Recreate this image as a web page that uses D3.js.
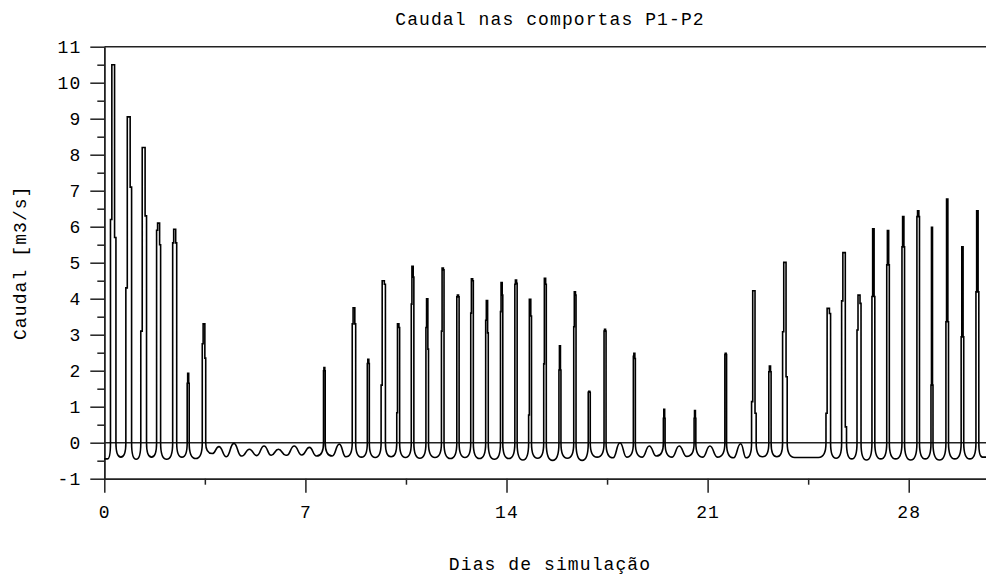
<!DOCTYPE html>
<html>
<head>
<meta charset="utf-8">
<title>Caudal nas comportas P1-P2</title>
<style>
  body { margin: 0; background: #fff; }
  svg text {
    font-family: "Liberation Mono", "DejaVu Sans Mono", monospace;
    font-size: 18px;
    fill: #000;
    letter-spacing: 1.1px;
  }
  .axis path, .axis line { stroke: #222; stroke-width: 1.5; }
  .frame { stroke: #222; stroke-width: 1.5; }
  .trace { fill: none; stroke: #000; stroke-width: 1.6; }
</style>
<script src="https://d3js.org/d3.v7.min.js"></script>
</head>
<body>
<div id="chart"></div>
<script>
// one entry per tidal crest (days of simulation)
var crestDay = [0.31, 0.85, 1.37, 1.89, 2.45, 2.92, 3.47, 3.99, 4.51, 5.05, 5.56, 6.06, 6.61, 7.14,
  7.66, 8.18, 8.69, 9.19, 9.71, 10.23, 10.73, 11.24, 11.78, 12.31, 12.80, 13.32, 13.83, 14.33,
  14.82, 15.34, 15.86, 16.38, 16.88, 17.43, 17.95, 18.45, 18.97, 19.49, 20.01, 20.56, 21.08, 21.63,
  22.15, 22.61, 23.17, 23.69, 25.20, 25.75, 26.27, 26.77, 27.28, 27.81, 28.33, 28.81, 29.34, 29.87, 30.39];
// flow at the crest, where the gate opens (m3/s)
var crestValue = [0, 0, 0, 0, 0, 0, 0, -0.11, -0.02, -0.18, -0.09, -0.18, -0.09, -0.13,
  0, -0.04, 0, 0, 0, 0, 0, 0, 0, 0, 0, 0, 0, 0,
  0, 0, 0, 0, 0, 0, 0, 0, -0.09, 0, -0.09, 0, -0.09, 0,
  -0.03, 0, 0, 0, 0, 0, 0, 0, 0, 0, 0, 0, 0, 0, 0];
// lowest flow in the trough after each crest
var troughValue = [-0.40, -0.46, -0.40, -0.46, -0.40, -0.44, -0.30, -0.39, -0.37, -0.36, -0.35, -0.35, -0.34, -0.37,
  -0.37, -0.39, -0.40, -0.41, -0.39, -0.41, -0.43, -0.41, -0.44, -0.41, -0.44, -0.46, -0.44, -0.48,
  -0.43, -0.49, -0.43, -0.49, -0.40, -0.42, -0.40, -0.40, -0.37, -0.40, -0.38, -0.40, -0.40, -0.42,
  -0.42, -0.39, -0.39, -0.41, -0.43, -0.45, -0.48, -0.45, -0.45, -0.48, -0.45, -0.48, -0.45, -0.45, -0.40];
// gate discharge pulses: first step, peak, step on the way down, duration (days); null = gate closed
var spikeRise = [6.2, 4.3, 3.1, 5.9, 5.55, 1.65, 2.75, null, null, null, null, null, null, null,
  2.0, null, 3.3, 2.2, 1.6, 0.83, 3.85, 3.2, 3.1, 4.05, 3.6, 3.4, 3.64, 4.4,
  0.77, 2.19, 2.02, 3.22, 1.4, 3.1, null, 2.4, null, 0.68, null, 0.68, null, 2.45,
  null, 1.14, 1.97, 3.08, 0.82, 3.94, 3.13, 4.06, 4.94, 5.44, 6.28, 1.6, 3.36, 2.94, 4.19];
var spikePeak = [10.5, 9.05, 8.2, 6.1, 5.93, 1.93, 3.3, null, null, null, null, null, null, null,
  2.09, null, 3.75, 2.32, 4.5, 3.3, 4.9, 4.0, 4.85, 4.1, 4.55, 3.95, 4.45, 4.52,
  3.98, 4.57, 2.69, 4.19, 1.43, 3.15, null, 2.48, null, 0.93, null, 0.89, null, 2.48,
  null, 4.22, 2.13, 5.01, 3.73, 5.28, 4.1, 5.94, 5.89, 6.28, 6.44, 5.98, 6.77, 5.44, 6.44];
var spikeFall = [5.7, 7.1, 6.3, 5.5, 5.55, 1.65, 2.35, null, null, null, null, null, null, null,
  2.0, null, 3.3, 2.2, 4.4, 3.2, 4.6, 2.6, 4.8, 4.05, 4.5, 3.05, 4.1, 4.43,
  3.52, 4.4, 2.02, 4.1, 1.4, 3.1, null, 2.34, null, 0.68, null, 0.68, null, 2.45,
  null, 0.82, 1.97, 1.83, 3.59, 0.44, 3.87, 4.06, 4.94, 5.44, 6.28, 1.6, 3.36, 2.94, 4.19];
var spikeWidth = [0.19, 0.20, 0.20, 0.14, 0.14, 0.07, 0.12, null, null, null, null, null, null, null,
  0.06, null, 0.12, 0.07, 0.15, 0.10, 0.09, 0.09, 0.09, 0.08, 0.09, 0.09, 0.08, 0.08,
  0.10, 0.09, 0.07, 0.08, 0.07, 0.07, null, 0.07, null, 0.06, null, 0.06, null, 0.06,
  null, 0.16, 0.08, 0.16, 0.16, 0.17, 0.14, 0.10, 0.09, 0.09, 0.09, 0.07, 0.09, 0.09, 0.10];
var startPoint = [0, -0.45];
var endPoint = [30.69, -0.40];

var xTicks = [0, 7, 14, 21, 28];
var xMinorTicks = [3.5, 10.5, 17.5, 24.5];
var yTicks = [-1, 0, 1, 2, 3, 4, 5, 6, 7, 8, 9, 10, 11];
var yMinorTicks = [-0.5, 0.5, 1.5, 2.5, 3.5, 4.5, 5.5, 6.5, 7.5, 8.5, 9.5, 10.5];

var width = 986, height = 577;

var x = d3.scaleLinear().domain([0, 30.69]).range([104.3, 986]);
var y = d3.scaleLinear().domain([-1, 11]).range([478.7, 46.7]);

var svg = d3.select("#chart").append("svg")
    .attr("width", width)
    .attr("height", height);

// zero line and top frame
svg.append("line").attr("class", "frame")
    .attr("x1", x(0)).attr("x2", width)
    .attr("y1", y(0)).attr("y2", y(0));
svg.append("line").attr("class", "frame")
    .attr("x1", x(0)).attr("x2", width)
    .attr("y1", y(11)).attr("y2", y(11));

// axes
svg.append("g").attr("class", "axis")
    .attr("transform", "translate(" + x(0) + ",0)")
    .call(d3.axisLeft(y).tickValues(yTicks).tickSize(14).tickSizeOuter(0).tickPadding(9)
        .tickFormat(function(d) { return String(d); }));
svg.append("g").attr("class", "axis")
    .attr("transform", "translate(" + x(0) + ",0)")
    .call(d3.axisLeft(y).tickValues(yMinorTicks).tickSize(7).tickSizeOuter(0).tickFormat(""));
svg.append("g").attr("class", "axis")
    .attr("transform", "translate(0," + y(-1) + ")")
    .call(d3.axisBottom(x).tickValues(xTicks).tickSize(14).tickSizeOuter(0).tickPadding(13)
        .tickFormat(function(d) { return String(d); }));
svg.append("g").attr("class", "axis")
    .attr("transform", "translate(0," + y(-1) + ")")
    .call(d3.axisBottom(x).tickValues(xMinorTicks).tickSize(6).tickSizeOuter(0).tickFormat(""));
svg.selectAll(".axis text").style("font-size", "18px").attr("font-family", null);

// the trace: troughs between crests, gate pulses drawn as steps
var p = d3.path();
var prevX = x(startPoint[0]), prevY = y(startPoint[1]), prevSpike = false;
p.moveTo(prevX, prevY);

// a trough: steep walls next to a gate pulse, rounded where the tide just turns
function dip(x1, y1, vMin, toSpike) {
  var x0 = prevX, y0 = prevY, ym = y(vMin);
  var h = Math.min((x1 - x0) / 2, 7.5);
  if (prevSpike) p.quadraticCurveTo(x0, ym, x0 + h, ym);
  else p.bezierCurveTo(x0 + h * 0.5, y0, x0 + h * 0.5, ym, x0 + h, ym);
  p.lineTo(x1 - h, ym);
  if (toSpike) p.quadraticCurveTo(x1, ym, x1, y1);
  else p.bezierCurveTo(x1 - h * 0.5, ym, x1 - h * 0.5, y1, x1, y1);
  prevX = x1; prevY = y1; prevSpike = toSpike;
}

crestDay.forEach(function(t, i) {
  var c = crestValue[i];
  var vMin = i === 0 ? startPoint[1] : troughValue[i - 1];
  if (spikePeak[i] == null) {
    dip(x(t), y(c), vMin, false);
    return;
  }
  var w = spikeWidth[i], tl = t - w / 2, tr = t + w / 2, a = w * 0.25;
  dip(x(tl), y(c), vMin, true);
  p.lineTo(x(tl), y(spikeRise[i]));
  p.lineTo(x(tl + a), y(spikeRise[i]));
  p.lineTo(x(tl + a), y(spikePeak[i]));
  p.lineTo(x(tr - a), y(spikePeak[i]));
  p.lineTo(x(tr - a), y(spikeFall[i]));
  p.lineTo(x(tr), y(spikeFall[i]));
  p.lineTo(x(tr), y(c));
  prevX = x(tr); prevY = y(c); prevSpike = true;
});
dip(x(endPoint[0]), y(endPoint[1]), troughValue[troughValue.length - 1], false);

svg.append("path").attr("class", "trace").attr("d", p.toString());

// titles
svg.append("text")
    .attr("x", 550).attr("y", 25)
    .attr("text-anchor", "middle")
    .text("Caudal nas comportas P1-P2");
svg.append("text")
    .attr("x", 550).attr("y", 570)
    .attr("text-anchor", "middle")
    .text("Dias de simulação");
svg.append("text")
    .attr("transform", "translate(21," + y(5) + ") rotate(-90)")
    .attr("text-anchor", "middle")
    .attr("dominant-baseline", "central")
    .text("Caudal [m3/s]");
</script>
</body>
</html>
